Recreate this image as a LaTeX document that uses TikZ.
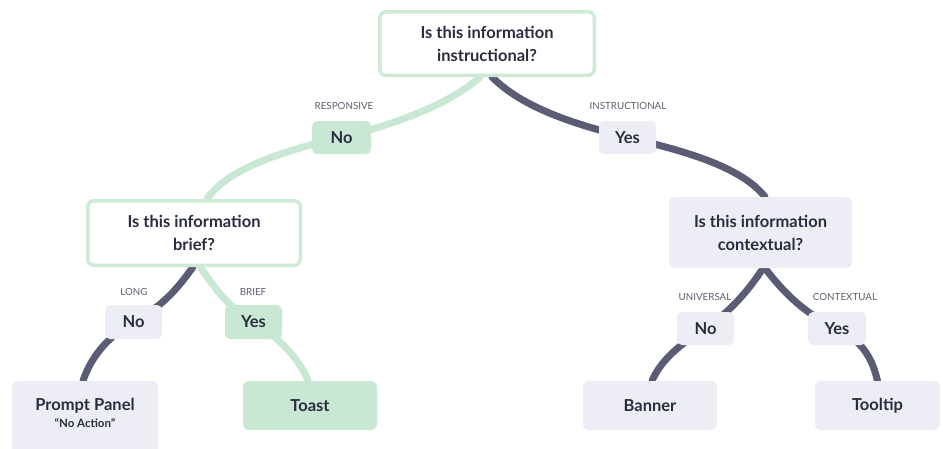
\documentclass[tikz,border=0pt]{standalone}
\usepackage{fontspec}
\setmainfont{Lato}
\usetikzlibrary{backgrounds}
\definecolor{ink}{HTML}{2A2C3F}
\definecolor{lab}{HTML}{5F6070}
\definecolor{dk}{HTML}{5A5C74}
\definecolor{gr}{HTML}{C8E8D3}
\definecolor{grb}{HTML}{CDEBD7}
\definecolor{gy}{HTML}{EDEEF5}
\tikzset{
  qgreen/.style={draw=grb, line width=3.5pt, fill=white, rounded corners=6pt, align=center,
    text=ink, font=\bfseries\fontsize{16.5}{23}\selectfont, inner sep=0pt},
  qgray/.style={fill=gy, rounded corners=6pt, align=center,
    text=ink, font=\bfseries\fontsize{16.5}{23}\selectfont, inner sep=0pt},
  ansgray/.style={fill=gy, rounded corners=5pt, text=ink, font=\bfseries\fontsize{16.5}{18}\selectfont,
    minimum width=57pt, minimum height=33pt, inner sep=0pt},
  ansgreen/.style={ansgray, fill=gr},
  endgray/.style={fill=gy, rounded corners=6pt, text=ink, font=\bfseries\fontsize{16.5}{18}\selectfont,
    minimum height=49pt, inner sep=0pt},
  endgreen/.style={endgray, fill=gr},
  tag/.style={text=lab, font=\fontsize{9.8}{11}\selectfont, inner sep=0pt},
  dline/.style={draw=dk, line width=7pt, line cap=round},
  gline/.style={draw=gr, line width=7pt, line cap=round},
}
\begin{document}
\begin{tikzpicture}[x=1pt,y=-1pt]
\useasboundingbox (0,0) rectangle (943,448);
% question nodes
\node[qgreen, minimum width=214.5pt, minimum height=63.5pt] (top) at (487,43.5) {Is this information\\instructional?};
\node[qgreen, minimum width=212.5pt, minimum height=64.5pt] (brief) at (194,233) {Is this information\\brief?};
\node[qgray, minimum width=183pt, minimum height=71pt] (ctx) at (760.5,232.5) {Is this information\\contextual?};
% answers
\node[ansgreen, minimum width=59pt] (no1) at (341.5,137.5) {No};
\node[ansgray] (yes1) at (627.5,137.5) {Yes};
\node[ansgray, minimum height=34pt] (no2) at (133.5,322) {No};
\node[ansgreen, minimum height=34pt] (yes2) at (253.5,322) {Yes};
\node[ansgray] (no3) at (705.5,328.5) {No};
\node[ansgray, minimum width=58pt] (yes3) at (837,328.5) {Yes};
% tags
\node[tag] (t1) at (344,106) {RESPONSIVE};
\node[tag] (t2) at (628,106) {INSTRUCTIONAL};
\node[tag] (t3) at (134,292) {LONG};
\node[tag] (t4) at (253,292) {BRIEF};
\node[tag] (t5) at (705,297) {UNIVERSAL};
\node[tag] (t6) at (845,297) {CONTEXTUAL};
% end nodes
\node[endgray, minimum width=146pt, minimum height=77pt] (prompt) at (85,419.5) {};
\node[text=ink, font=\bfseries\fontsize{16.5}{18}\selectfont, inner sep=0pt] (pt1) at (85,406) {Prompt Panel};
\node[text=ink, font=\bfseries\fontsize{11.5}{13}\selectfont, inner sep=0pt] (pt2) at (85,423) {“No Action”};
\node[endgreen, minimum width=134pt] (toast) at (310,405.5) {Toast};
\node[endgray, minimum width=134pt] (banner) at (650,405.5) {Banner};
\node[endgray, minimum width=125pt] (tooltip) at (877.5,405.5) {Tooltip};
% connectors
\begin{scope}[on background layer]
\fill[white] (0,0) rectangle (943,448);
\draw[gline] ([xshift=-7pt]top.south) .. controls (455,100) and (405,122) .. (no1.center)
  .. controls (275,152) and (225,172) .. ([xshift=13pt]brief.north);
\draw[dline] ([xshift=5pt]top.south) .. controls (520,105) and (565,122) .. (yes1.center)
  .. controls (690,152) and (742,168) .. ([xshift=4.5pt]ctx.north);
\draw[dline] ([xshift=-1pt]brief.south) .. controls (180,285) and (165,305) .. (no2.center)
  .. controls (105,338) and (90,360) .. ([xshift=-2pt]prompt.north);
\draw[gline] ([xshift=6pt]brief.south) .. controls (213,285) and (228,308) .. (yes2.center)
  .. controls (280,338) and (300,360) .. ([xshift=-2pt]toast.north);
\draw[dline] ([xshift=2.5pt]ctx.south) .. controls (752,285) and (735,308) .. (no3.center)
  .. controls (678,345) and (660,362) .. ([xshift=2pt]banner.north);
\draw[dline] ([xshift=4.5pt]ctx.south) .. controls (778,285) and (800,312) .. (yes3.center)
  .. controls (865,342) and (873,362) .. (tooltip.north);
\end{scope}
\end{tikzpicture}
\end{document}
